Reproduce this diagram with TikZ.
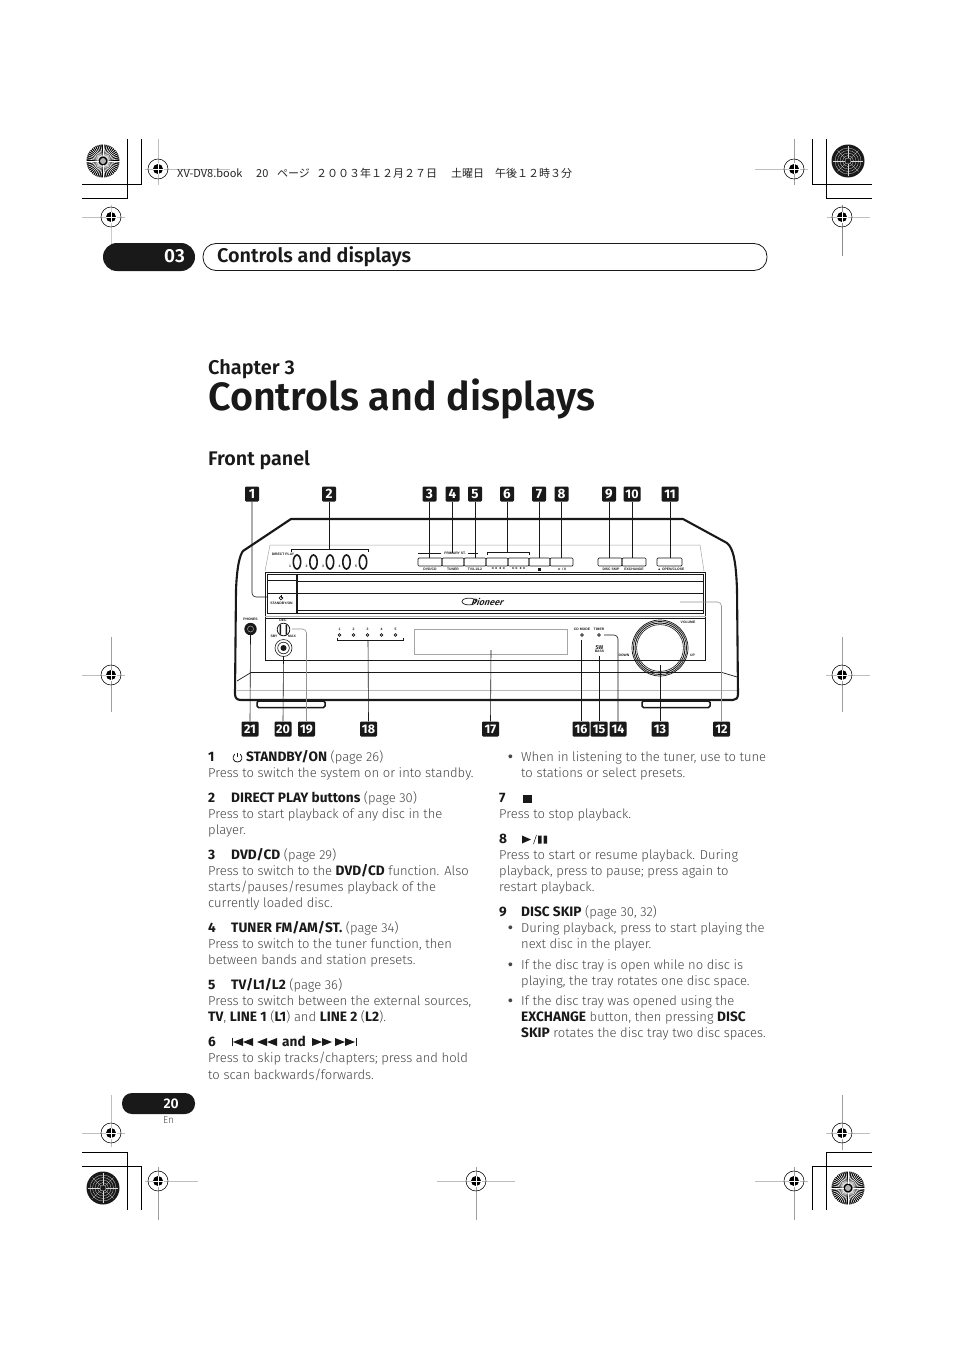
\documentclass[tikz,border=0pt]{standalone}
\usepackage{fontspec}
\setmainfont{Fira Sans Light}[BoldFont={Fira Sans Bold},BoldFeatures={Scale=1.05}]
\newfontfamily\headf{Fira Sans}[BoldFont={Fira Sans SemiBold}]
\newfontfamily\badgef{Fira Sans Bold}
\newfontfamily\cjk{Noto Sans CJK JP}
\newfontfamily\tinyf{Liberation Sans}
\newcounter{tlc}
\definecolor{bodyc}{gray}{0.27}
\definecolor{inkc}{gray}{0.1}
\tikzset{
  bodytxt/.style={anchor=base west,inner sep=0pt,text=bodyc,font=\fontsize{13}{15}\selectfont},
  badge/.style={fill=inkc,rounded corners=1.2pt,minimum width=14pt,minimum height=15pt,inner sep=0pt,text=white,font=\badgef\fontsize{13.5}{14}\selectfont},
  badgew/.style={badge,minimum width=17pt,font=\badgef\fontsize{12.5}{14}\selectfont},
  leader/.style={draw=inkc,line width=0.6pt},
  leaderg/.style={draw=gray!85,line width=0.6pt},
  thick line/.style={draw=inkc,line width=2.1pt},
  devline/.style={draw=inkc,line width=0.7pt},
  devthin/.style={draw=gray!70,line width=0.5pt},
  tinytxt/.style={inner sep=0pt,text=inkc,font=\tinyf\bfseries\fontsize{3.4}{4}\selectfont},
  crop/.style={draw=black,line width=0.8pt},
  regcross/.style={draw=gray!50,line width=0.8pt},
  hdrtxt/.style={anchor=base west,inner sep=0pt,font=\cjk\fontsize{11}{12}\selectfont,text=black!85}
}
\newcommand{\tl}[3]{\stepcounter{tlc}\node[bodytxt] (t\thetlc) at (#1,#2+4.4) {#3};}
\newcommand{\tn}[3]{\stepcounter{tlc}\node[tinytxt] (t\thetlc) at (#1,#2) {#3};}
\newcommand{\regm}[7]{%
  \draw[regcross] (#3,#2)--(#4,#2);
  \draw[regcross,draw=#7] (#1,#5)--(#1,#6);
  \fill[black] (#1,#2) circle (5);
  \draw[white,line width=0.8pt] (#1-5.5,#2)--(#1+5.5,#2) (#1,#2-5.5)--(#1,#2+5.5);
  \draw[black,line width=0.55pt] (#1,#2) circle (10);
}
\newcommand{\burst}[2]{%
  \fill[black] (#1,#2) circle (16.5);
  \begin{scope}[shift={(#1,#2)}]
  \foreach \a in {0,7.5,...,352.5}{\draw[white,line width=0.55pt] (\a:4.5)--(\a:16.8);}
  \fill[gray!60] (0,0) circle (3);
  \end{scope}
}
\newcommand{\darkd}[2]{%
  \fill[black!90] (#1,#2) circle (16.5);
  \begin{scope}[shift={(#1,#2)}]
  \foreach \r in {3,5.5,8,10.5,13}{\draw[gray!35,line width=0.3pt] (0,0) circle (\r);}
  \foreach \a in {0,45,...,315}{\draw[gray!30,line width=0.25pt] (\a:3)--(\a:15);}
  \end{scope}
}
\newcommand{\tri}[3]{\fill[inkc] (#1,#3)--(#2,#3-4)--(#2,#3+4)--cycle;}
\begin{document}
\begin{tikzpicture}[x=1pt,y=-1pt]
\useasboundingbox (0,0) rectangle (954,1351);
\fill[white] (0,0) rectangle (954,1351);
% crop marks
\draw[crop] (127,139)--(127,198)--(82,198);
\draw[crop] (141,139)--(141,184)--(82,184);
\draw[crop] (812,139)--(812,184)--(872,184);
\draw[crop] (826,139)--(826,198)--(872,198);
\draw[crop] (82,1152)--(127,1152)--(127,1210);
\draw[crop] (82,1166)--(141,1166)--(141,1210);
\draw[crop] (872,1152)--(826,1152)--(826,1210);
\draw[crop] (872,1166)--(812,1166)--(812,1210);
\burst{103}{161}\darkd{848}{161}\darkd{103}{1188}\burst{848}{1188}
\regm{158}{169}{145}{230}{139}{185}{gray!50}
\regm{794}{169}{755}{808}{139}{185}{gray!75}
\regm{111}{217}{82}{125}{205}{271}{gray!40}
\regm{842}{217}{827}{870}{205}{256}{gray!90}
\regm{111}{675}{82}{125}{637}{712}{gray!75}
\regm{842}{675}{826}{870}{637}{712}{gray!75}
\regm{111}{1133}{82}{125}{1095}{1147}{gray!50}
\regm{842}{1133}{826}{870}{1095}{1150}{gray!75}
\regm{158}{1181}{145}{198}{1167}{1220}{gray!75}
\regm{476}{1181}{437}{515}{1167}{1220}{gray!75}
\regm{794}{1181}{755}{808}{1167}{1220}{gray!75}
\node[hdrtxt] (hdra) at (177,177.5) {XV-DV8.book};
\node[hdrtxt] (hdrb) at (256,177.5) {20};
\node[hdrtxt] (hdrc) at (277,177.5) {ページ};
\node[hdrtxt] (hdrd) at (316,177.5) {２００３年１２月２７日};
\node[hdrtxt] (hdre) at (451,177.5) {土曜日};
\node[hdrtxt] (hdrf) at (495,177.5) {午後１２時３分};
% chapter tabs
\draw[fill=inkc,draw=none,rounded corners=14pt] (103,243) rectangle (195,271);
\node[anchor=base east,inner sep=0pt,text=white,font=\headf\bfseries\fontsize{19}{20}\selectfont] (tabn) at (185,262) {03};
\draw[draw=inkc,line width=0.8pt,rounded corners=13pt] (203,243.5) rectangle (767,270.5);
\node[anchor=base west,inner sep=0pt,text=inkc,font=\headf\bfseries\fontsize{19.8}{22}\selectfont] (tabt) at (217,262) {Controls and displays};
\node[anchor=base west,inner sep=0pt,text=inkc,font=\headf\bfseries\fontsize{19.9}{22}\selectfont] (chap) at (208,374) {Chapter 3};
\node[anchor=base west,inner sep=0pt,text=inkc,font=\headf\bfseries\fontsize{39.5}{44}\selectfont] (title) at (208,410) {Controls and displays};
\node[anchor=base west,inner sep=0pt,text=inkc,font=\headf\bfseries\fontsize{19.7}{22}\selectfont] (front) at (208,465) {Front panel};
% page number
\draw[fill=inkc,draw=none,rounded corners=10pt] (122,1093) rectangle (195,1114);
\node[anchor=base east,inner sep=0pt,text=white,font=\headf\bfseries\fontsize{14}{16}\selectfont] (pg) at (179,1108) {20};
\node[anchor=base west,inner sep=0pt,text=bodyc,font=\fontsize{10}{12}\selectfont] (en) at (163,1123) {En};
% device body
\draw[devthin] (270,545)--(265,571) (270,545)--(700,545)--(704,571);
\draw[devline] (237,681)--(251,672.5)--(722,672.5)--(737,677);
\draw[draw=gray!55,line width=1.6pt] (237,690.5)--(737,690.5);
\draw[draw=inkc,fill=white,line width=1.5pt,rounded corners=1.5pt] (257,701) rectangle (325,707.5);
\draw[draw=inkc,fill=white,line width=1.5pt,rounded corners=1.5pt] (642,701) rectangle (710,707.5);
\draw[thick line,line join=round] (291,519)--(683,519)--(727,543) .. controls (733,548) and (736,560) .. (737,590)--(738,694) .. controls (738,698) and (736,700) .. (733,700)--(241,700) .. controls (237,700) and (235,698) .. (235,694)--(236,590) .. controls (237,565) and (240,555) .. (243,551)--cycle;
\draw[draw=inkc,line width=1.2pt] (238,699.5)--(736,699.5);
% panel
\draw[draw=inkc,line width=1pt] (265,572)--(265,660.5)--(705.5,660.5)--(705.5,572)--cycle;
\draw[devline] (267.5,574.5) rectangle (296,613);
\draw[devline] (297.5,574.5) rectangle (703.5,613);
\draw[devline] (267.5,580)--(296,580) (267.5,593)--(296,593) (297.5,581)--(703.5,581) (297.5,593)--(703.5,593) (297.5,610.5)--(703.5,610.5);
\draw[draw=gray!60,line width=0.7pt] (265,616)--(705.5,616);
\draw[devline] (265,618.5)--(705.5,618.5);
% labelled buttons
\foreach \a/\b in {418/442,442/464,464/486,486/508,508/529,529/550,550/573,598/622,622/646,657/682}{
  \draw[devline,rounded corners=1pt] (\a,558) rectangle (\b,566);
}
% brackets
\draw[devline] (418,553)--(441,553) (468,553)--(478,553);
\coordinate (br2) at (329,549.5);
\draw[draw=inkc,line width=0.8pt] (291,552)--(291,549.5)--(368,549.5)--(368,552);
\coordinate (br6) at (507,552.5);
\draw[draw=inkc,line width=0.8pt] (487,555)--(487,552.5)--(529,552.5)--(529,555);
\tn{455}{553}{PRIMARY ST.}
% direct play ovals
\tn{283}{554}{DIRECT PLAY}
\foreach \x/\n in {297/1,313.5/2,330/3,346.5/4,363/5}{
  \draw[draw=inkc,line width=1.6pt] (\x,562) ellipse (3.7 and 7);
  \node[tinytxt] (dp\n) at (\x-7,566) {\n};
}
% button labels
\tn{430}{569}{DVD/CD}\tn{453}{569}{TUNER}\tn{475}{569}{TV/L1/L2}\tn{498}{569}{◄◄ ◄◄}\tn{519}{569}{►► ►►}
\fill[inkc] (538,567.5) rectangle (541,570.5);
\tn{562}{569}{► / II}\tn{611}{569}{DISC SKIP}\tn{634}{569}{EXCHANGE}\tn{671}{569}{▲ OPEN/CLOSE}
% standby
\draw[inkc,line width=0.7pt] (281,598) circle (1.8);
\draw[inkc,line width=0.7pt] (281,595)--(281,598);
\tn{281.5}{603.5}{STANDBY/ON}
% logo
\draw[inkc,line width=0.7pt] (469,601.5) ellipse (7 and 3.4);
\node[inner sep=0pt,text=inkc,xslant=0.35,font=\headf\bfseries\fontsize{9}{10}\selectfont] (logo) at (488,601.5) {Pioneer};
% lower panel
\tn{250.5}{619}{PHONES}
\fill[inkc] (250.5,629) circle (6.2);
\draw[gray!70,line width=0.5pt] (250.5,629) circle (3);
\tn{283}{620.5}{DEC}\tn{274}{636}{SBY}\tn{292}{636}{MAX}
\draw[inkc,line width=0.8pt] (283.5,629.5) circle (6.3);
\fill[inkc] (279.5,624.5) rectangle (281,634.5) (285.5,624.5) rectangle (287,634.5);
\draw[inkc,line width=0.6pt] (283.5,648) circle (8.5) (283.5,648) circle (5.8);
\fill[inkc] (283.5,648) circle (3);
\foreach \x/\n in {339.5/1,353.5/2,367.5/3,381.5/4,395.5/5}{
  \node[tinytxt] (led\n) at (\x,629) {\n};
  \draw[inkc,line width=0.7pt,fill=white] (\x,635) circle (1.3);
}
\coordinate (br18) at (368,640);
\draw[draw=inkc,line width=0.8pt] (337,637.5)--(337,640)--(403,640)--(403,637.5);
\draw[draw=gray!70,line width=0.7pt] (414,629.5) rectangle (567,654);
\coordinate (disp) at (491,650);
\tn{582}{629}{CD MODE}\tn{599}{629}{TIMER}
\draw[inkc,line width=0.7pt,fill=white] (582,635) circle (1.3) (599,635) circle (1.3);
\node[inner sep=0pt,text=inkc,font=\headf\bfseries\fontsize{5.5}{6}\selectfont] (swt) at (599.5,647.5) {SW};
\tn{599.5}{651.5}{BASS}
\draw[inkc,line width=0.7pt] (660,648) circle (28) (660,648) circle (26.6);
\draw[inkc,line width=0.9pt] (660,648) circle (25);
\draw[inkc,line width=0.6pt] (660,648) circle (23.4);
\tn{688}{622}{VOLUME}\tn{624}{655.5}{DOWN}\tn{692.5}{655.5}{UP}
% badges
\foreach \n/\x in {1/252,2/329,3/429.5,4/452.5,5/475,6/507,7/539,8/561.5,9/609}{
  \node[badge] (b\n) at (\x,494) {\n};
}
\node[badgew] (b10) at (632,494) {10};
\node[badgew] (b11) at (670,494) {11};
\node[badgew] (b21) at (250,729) {21};
\node[badgew] (b20) at (283,729) {20};
\node[badgew] (b19) at (306.5,729) {19};
\node[badgew] (b18) at (368.5,729) {18};
\node[badgew] (b17) at (490.5,729) {17};
\node[badgew] (b16) at (581,729) {16};
\node[badgew] (b15) at (599,729) {15};
\node[badgew] (b14) at (618,729) {14};
\node[badgew] (b13) at (660,729) {13};
\node[badgew] (b12) at (721.5,729) {12};
% leaders
\coordinate (e1) at (268,597);
\draw[leader,rounded corners=4pt] (b1.south)|-(e1);
\draw[leader] (b2.south)--(br2);
\foreach \n/\y in {3/558,4/553,5/558,7/558,8/558,9/558,10/558,11/558}{
  \path (b\n.south) coordinate (tp);
  \draw[leader] (tp)--(tp|-0,\y);
}
\draw[leader] (b6.south)--(br6);
\coordinate (e12) at (680,602);
\draw[leaderg,rounded corners=4pt] (e12)-|(b12.north);
\coordinate (e13) at (660,665);
\draw[leader] (e13)--(b13.north);
\coordinate (e14) at (604,635);
\draw[leader,rounded corners=4pt] (e14)-|(b14.north);
\coordinate (e15) at (599,656);
\draw[leader] (e15)--(b15.north);
\coordinate (e16) at (581,640);
\draw[leader] (e16)--(b16.north);
\draw[leader] (disp)--(b17.north);
\draw[leader] (br18)--(b18.north);
\coordinate (e19) at (292,629);
\draw[leaderg,rounded corners=4pt] (e19)-|(b19.north);
\coordinate (e20) at (283.5,657);
\draw[leader] (e20)--(b20.north);
\coordinate (e21) at (250.5,635);
\draw[leader] (e21)--(b21.north);
% left column
\tl{208}{757}{\textcolor{inkc}{\textbf{1}}}
\draw[inkc,line width=0.8pt] (237.5,752.5)--(237.5,757);
\draw[inkc,line width=0.8pt] (234.8,754) .. controls (231.8,757) and (233,762) .. (237.5,762) .. controls (242,762) and (243.2,757) .. (240.2,754);
\tl{246}{757}{\textcolor{inkc}{\textbf{STANDBY/ON}} (page 26)}
\tl{208}{773}{Press to switch the system on or into standby.}
\tl{208}{798}{\textcolor{inkc}{\textbf{2}}}
\tl{231}{798}{\textcolor{inkc}{\textbf{DIRECT PLAY buttons}} (page 30)}
\tl{208}{814}{Press to start playback of any disc in the}
\tl{208}{830}{player.}
\tl{208}{855}{\textcolor{inkc}{\textbf{3}}}
\tl{231}{855}{\textcolor{inkc}{\textbf{DVD/CD}} (page 29)}
\tl{208}{871}{Press to switch to the \textcolor{inkc}{\textbf{DVD/CD}} function. Also}
\tl{208}{887}{starts/pauses/resumes playback of the}
\tl{208}{903}{currently loaded disc.}
\tl{208}{928}{\textcolor{inkc}{\textbf{4}}}
\tl{231}{928}{\textcolor{inkc}{\textbf{TUNER FM/AM/ST.}} (page 34)}
\tl{208}{944}{Press to switch to the tuner function, then}
\tl{208}{960}{between bands and station presets.}
\tl{208}{985}{\textcolor{inkc}{\textbf{5}}}
\tl{231}{985}{\textcolor{inkc}{\textbf{TV/L1/L2}} (page 36)}
\tl{208}{1001}{Press to switch between the external sources,}
\tl{208}{1017}{\textcolor{inkc}{\textbf{TV}}, \textcolor{inkc}{\textbf{LINE 1}} (\textcolor{inkc}{\textbf{L1}}) and \textcolor{inkc}{\textbf{LINE 2}} (\textcolor{inkc}{\textbf{L2}}).}
\tl{208}{1042}{\textcolor{inkc}{\textbf{6}}}
\draw[inkc,line width=0.9pt] (232,1038)--(232,1046);
\tri{233}{243}{1042}\tri{243}{253}{1042}\tri{257}{267}{1042}\tri{267}{277}{1042}
\tl{282}{1042}{\textcolor{inkc}{\textbf{and}}}
\tri{322}{312}{1042}\tri{332}{322}{1042}\tri{345}{335}{1042}\tri{355}{345}{1042}
\draw[inkc,line width=0.9pt] (356.5,1038)--(356.5,1046);
\tl{208}{1058}{Press to skip tracks/chapters; press and hold}
\tl{208}{1075}{to scan backwards/forwards.}
% right column
\tl{508}{757}{\textbf{•}}
\tl{521}{757}{When in listening to the tuner, use to tune}
\tl{521}{773}{to stations or select presets.}
\tl{499}{798}{\textcolor{inkc}{\textbf{7}}}
\fill[inkc] (522.5,794.5) rectangle (531.5,803);
\tl{499}{814}{Press to stop playback.}
\tl{499}{839}{\textcolor{inkc}{\textbf{8}}}
\tri{531}{522}{839.5}
\draw[inkc,line width=0.5pt] (533.5,844)--(536.5,835);
\fill[inkc] (538,835.5) rectangle (541.5,843.5) (543.5,835.5) rectangle (547,843.5);
\tl{499}{855}{Press to start or resume playback. During}
\tl{499}{871}{playback, press to pause; press again to}
\tl{499}{887}{restart playback.}
\tl{499}{912}{\textcolor{inkc}{\textbf{9}}}
\tl{521}{912}{\textcolor{inkc}{\textbf{DISC SKIP}} (page 30, 32)}
\tl{508}{928}{\textbf{•}}
\tl{521}{928}{During playback, press to start playing the}
\tl{521}{944}{next disc in the player.}
\tl{508}{965}{\textbf{•}}
\tl{521}{965}{If the disc tray is open while no disc is}
\tl{521}{981}{playing, the tray rotates one disc space.}
\tl{508}{1001}{\textbf{•}}
\tl{521}{1001}{If the disc tray was opened using the}
\tl{521}{1017}{\textcolor{inkc}{\textbf{EXCHANGE}} button, then pressing \textcolor{inkc}{\textbf{DISC}}}
\tl{521}{1033}{\textcolor{inkc}{\textbf{SKIP}} rotates the disc tray two disc spaces.}
\end{tikzpicture}
\end{document}
